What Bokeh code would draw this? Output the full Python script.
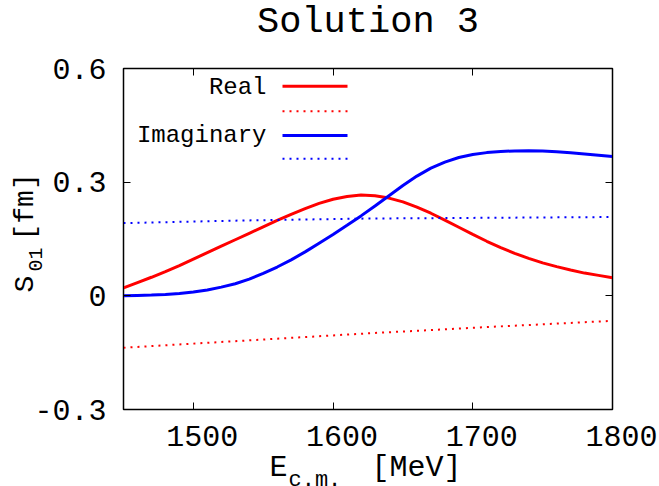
import math
from bokeh.plotting import figure
from bokeh.models import Range1d, LinearAxis, FixedTicker, Arrow, CustomJSTickFormatter
from bokeh.core.properties import value
from bokeh.embed import file_html
from bokeh.resources import INLINE

# ---- data ----
energy = [1450, 1460, 1470, 1480, 1490, 1500, 1510, 1520, 1530, 1540, 1550, 1560,
          1570, 1580, 1590, 1600, 1610, 1620, 1630, 1640, 1650, 1660, 1670, 1680,
          1690, 1700, 1710, 1720, 1730, 1740, 1750, 1760, 1770, 1780, 1790, 1800]
real_solid = [0.021, 0.035, 0.049, 0.064, 0.080, 0.097, 0.114, 0.131, 0.148, 0.165, 0.182, 0.199,
              0.215, 0.230, 0.244, 0.255, 0.262, 0.266, 0.264, 0.258, 0.248, 0.234, 0.218, 0.200,
              0.181, 0.162, 0.144, 0.127, 0.112, 0.099, 0.087, 0.077, 0.068, 0.060, 0.054, 0.048]
imag_solid = [0.000, 0.001, 0.002, 0.0035, 0.006, 0.010, 0.0155, 0.023, 0.032, 0.044, 0.059, 0.076,
              0.095, 0.116, 0.139, 0.162, 0.186, 0.211, 0.237, 0.264, 0.291, 0.316, 0.337, 0.353,
              0.365, 0.373, 0.378, 0.381, 0.3825, 0.383, 0.3822, 0.380, 0.3775, 0.3745, 0.3713, 0.368]
energy_flat = [1450, 1537.5, 1625, 1712.5, 1800]
real_dotted = [-0.137, -0.118, -0.099, -0.082, -0.066]
imag_dotted = [0.192, 0.199, 0.204, 0.206, 0.208]

x_ticks = [1500, 1600, 1700, 1800]
x_tick_labels = ["1500", "1600", "1700", "1800"]
y_ticks = [-0.3, 0, 0.3, 0.6]
y_tick_labels = ["-0.3", "0", "0.3", "0.6"]

title_text = "Solution 3"
legend_labels = ["Real", "Imaginary"]

FONT = "Liberation Mono"
RED = "#ff0000"
BLUE = "#0000ff"

W, H = 659, 486
LEFT, RIGHT, TOP, BOTTOM = 123, 47, 68, 77
BASE_FIX = 8  # pixels: the text glyph draws its baseline this much lower than asked

xr = Range1d(1450, 1800)
yr = Range1d(-0.3, 0.6)
p = figure(width=W, height=H, output_backend="svg", toolbar_location=None,
           x_range=xr, y_range=yr,
           min_border_left=LEFT, min_border_right=RIGHT, min_border_top=TOP, min_border_bottom=BOTTOM)
p.background_fill_color = "white"
p.border_fill_color = "white"
p.outline_line_color = "black"
p.outline_line_width = 1.5
p.xgrid.visible = False
p.ygrid.visible = False

def style_axis(ax, ticks, labels=None, size="30px", standoff=11):
    ax.ticker = FixedTicker(ticks=ticks)
    ax.axis_line_color = "black"
    ax.axis_line_width = 1
    ax.major_tick_in = 7
    ax.major_tick_out = 0
    ax.major_tick_line_color = "black"
    ax.major_tick_line_width = 1
    ax.minor_tick_line_color = None
    ax.major_label_text_font = FONT
    ax.major_label_text_font_size = size
    ax.major_label_text_color = "black"
    ax.major_label_standoff = standoff
    if labels is None:
        ax.formatter = CustomJSTickFormatter(code="return ''")
    else:
        ax.major_label_overrides = dict(zip(ticks, labels))

style_axis(p.xaxis[0], x_ticks, ["\u00a0" + t for t in x_tick_labels], standoff=11)
style_axis(p.yaxis[0], y_ticks, y_tick_labels, standoff=17)

top_axis = LinearAxis()
style_axis(top_axis, x_ticks, None, size="1px", standoff=0)
p.add_layout(top_axis, "above")
right_axis = LinearAxis()
style_axis(right_axis, y_ticks, None, size="1px", standoff=0)
p.add_layout(right_axis, "right")

# ---- curves ----
p.line(energy, real_solid, line_color=RED, line_width=3)
p.line(energy_flat, real_dotted, line_color=RED, line_width=2, line_dash="2 5")
p.line(energy, imag_solid, line_color=BLUE, line_width=3)
p.line(energy_flat, imag_dotted, line_color=BLUE, line_width=2, line_dash="2 5")

# ---- texts: anchored at the frame centre, shifted in pixels; drawn at overlay level (unclipped) ----
cx = (xr.start + xr.end) / 2
cy = (yr.start + yr.end) / 2
fcx = LEFT + (W - LEFT - RIGHT) / 2
fcy = TOP + (H - TOP - BOTTOM) / 2

def txt(t, X, Y, size, align="left", vertical=False):
    if vertical:
        X -= BASE_FIX
        angle = math.pi / 2
    else:
        Y -= BASE_FIX
        angle = 0.0
    p.text(x=[cx], y=[cy], text=[t], x_offset=X - fcx, y_offset=Y - fcy,
           text_font=value(FONT), text_font_size=value(size), text_color="black",
           text_align=align, text_baseline="alphabetic", angle=angle, level="overlay")

txt(title_text, fcx, 29, "37px", align="center")
txt("E", 269, 475, "30px")
txt("c.m.", 288, 488, "22px")
txt("[MeV]", 371, 475, "30px")
txt("S", 33, 292, "28px", vertical=True)
txt("01", 43, 271, "20px", vertical=True)
txt("[fm]", 33, 240, "28px", vertical=True)

# legend
txt(legend_labels[0], 266, 95, "24px", align="right")
txt(legend_labels[1], 266, 143.3, "24px", align="right")
for yy, col, dash, w in [(85.7, RED, "solid", 3), (110.7, RED, "2 5", 2),
                         (135.0, BLUE, "solid", 3), (158.3, BLUE, "2 5", 2)]:
    sy = (H - BOTTOM) - yy
    p.add_layout(Arrow(end=None, x_start=282 - LEFT, y_start=sy, x_end=347 - LEFT, y_end=sy,
                       start_units="screen", end_units="screen",
                       line_color=col, line_width=w, line_dash=dash))

open("out.html", "w").write(file_html(p, INLINE))
